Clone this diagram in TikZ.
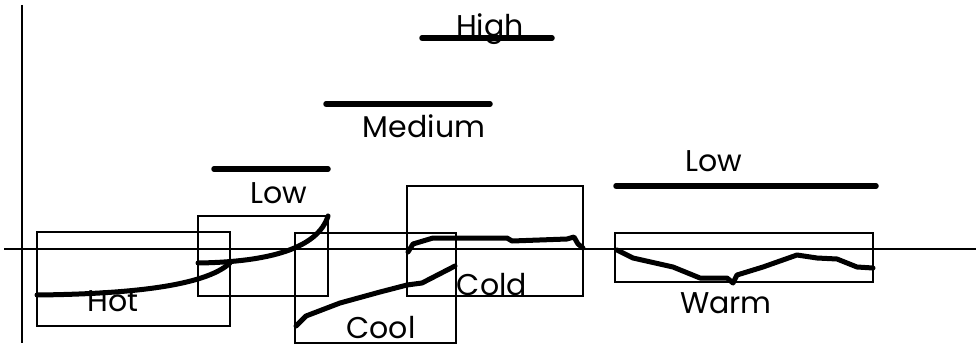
\documentclass[tikz,border=0pt]{standalone}
\usepackage{fontspec}
\setmainfont{Poppins}
\tikzset{
 setbox/.style={line width=2pt},
 member/.style={line width=5pt, line join=round, line cap=round},
 level/.style={line width=5.5pt, line cap=round},
 term/.style={font=\fontsize{30}{30}\selectfont, inner sep=0pt, anchor=base}
}

\begin{document}
\begin{tikzpicture}[x=1pt,y=-1pt]
 \useasboundingbox (0,0) rectangle (976,345);
 % axes
 \draw [line width=2pt] (22,5) -- (22,343);
 \draw [line width=1.5pt] (4,249) -- (976,249);
 % output levels
 \node[term] at (490,37)(high){High};
 \draw [level] (422,38) -- (552,38);
 \draw [level] (326,104) -- (490,104);
 \node[term] at (424,137)(medium){Medium};
 \draw [level] (214,169) -- (328,169);
 \node[term] at (279,203)(lowa){Low};
 \node[term] at (714,171)(lowb){Low};
 \draw [level] (616,186) -- (876,186);
 % input sets
 \draw [setbox] (37,232) rectangle (230,326);
 \draw [setbox] (198,216) rectangle (328,296);
 \draw [setbox] (295,233) rectangle (456,343);
 \draw [setbox] (407,186) rectangle (583,296);
 \draw [setbox] (615,233) rectangle (873,282);
 \node[term] at (113,311)(hot){Hot};
 \node[term, text depth=0pt] at (381,338)(cool){Cool};
 \node[term] at (492,295)(cold){Cold};
 \node[term] at (726,313)(warm){Warm};
 % members
 \draw [member] (37,295) .. controls (130,294) and (205,286) .. (230,263);
 \draw [member] (198,263) .. controls (270,262) and (318,248) .. (328,216);
 \draw [member] (296,326) -- (306,316) -- (340,303) -- (380,292) -- (407,285)
  -- (422,283) -- (455,266);
 \draw [member] (408,252) -- (413,244) -- (433,238) -- (507,238) -- (512,241)
  -- (567,239) -- (574,237) -- (578,244) -- (583,248);
 \draw [member] (617,250) -- (633,258) -- (673,267) -- (700,278) -- (727,278)
  -- (733,283) -- (737,275) -- (763,267) -- (797,255) -- (817,258)
  -- (837,259) -- (857,267) -- (873,268);
\end{tikzpicture}
\end{document}
